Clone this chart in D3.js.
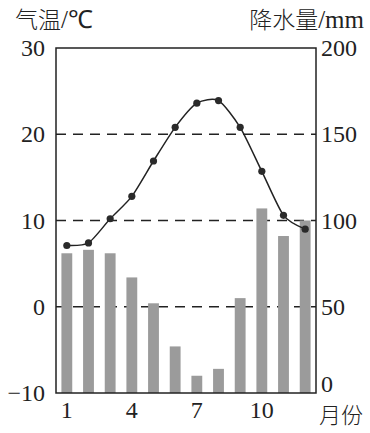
<!DOCTYPE html>
<html>
<head>
<meta charset="utf-8">
<script src="https://cdn.jsdelivr.net/npm/d3@7"></script>
<style>
  body { margin: 0; background: #fff; }
  text { font-family: "Liberation Serif", "Noto Sans CJK SC", serif; fill: #222; }
</style>
</head>
<body>
<div id="canvas"></div>
<script>
var months = [1, 2, 3, 4, 5, 6, 7, 8, 9, 10, 11, 12];
var temperature = [7.1, 7.4, 10.2, 12.8, 16.9, 20.8, 23.6, 23.9, 20.8, 15.7, 10.6, 9.0];
var precipitation = [81, 83, 81, 67, 52, 27, 10, 14, 55, 107, 91, 100];
var tempTicks = [-10, 0, 10, 20, 30];
var precTicks = [0, 50, 100, 150, 200];
var monthTicks = [1, 4, 7, 10];

(function(){
    var W = 370, H = 433;
    var left = 56, right = 316, top = 48, bottom = 393;

    var svg = d3.select("#canvas").append("svg").attr("width", W).attr("height", H);

    var x = d3.scaleBand().domain(months).range([left, right]).paddingInner(0.5).paddingOuter(0.25);
    var yT = d3.scaleLinear().domain([-10, 30]).range([bottom, top]);
    var yP = d3.scaleLinear().domain([0, 200]).range([bottom, top]);

    // dashed grid
    svg.selectAll(".grid").data([0, 10, 20]).enter().append("line")
        .attr("x1", left).attr("x2", right)
        .attr("y1", function(d){ return yT(d); }).attr("y2", function(d){ return yT(d); })
        .attr("stroke", "#222").attr("stroke-width", 1.5).attr("stroke-dasharray", "10,7");

    // bars
    svg.selectAll(".bar").data(precipitation).enter().append("rect")
        .attr("x", function(d, i){ return x(months[i]); })
        .attr("y", function(d){ return yP(d); })
        .attr("width", x.bandwidth())
        .attr("height", function(d){ return yP(0) - yP(d); })
        .attr("fill", "#9b9b9b");

    // temperature curve
    var line = d3.line()
        .x(function(d, i){ return x(months[i]) + x.bandwidth() / 2; })
        .y(function(d){ return yT(d); })
        .curve(d3.curveCardinal.tension(0.3));
    svg.append("path").datum(temperature)
        .attr("d", line).attr("fill", "none").attr("stroke", "#222").attr("stroke-width", 1.5);

    svg.selectAll(".pt").data(temperature).enter().append("circle")
        .attr("cx", function(d, i){ return x(months[i]) + x.bandwidth() / 2; })
        .attr("cy", function(d){ return yT(d); })
        .attr("r", 3.6).attr("fill", "#2a2a2a");

    // frame
    svg.append("rect").attr("x", left).attr("y", top)
        .attr("width", right - left).attr("height", bottom - top)
        .attr("fill", "none").attr("stroke", "#222").attr("stroke-width", 1.5);

    // axes (labels only)
    var la = svg.append("g").attr("transform", "translate(" + left + ",0)")
        .call(d3.axisLeft(yT).tickValues(tempTicks).tickSize(0).tickPadding(11)
              .tickFormat(function(d){ return d < 0 ? "\u2212" + Math.abs(d) : d; }));
    la.select(".domain").remove();
    la.selectAll("text").attr("font-size", 24).attr("font-family", "Liberation Serif").attr("fill", "#222");

    var ra = svg.append("g").attr("transform", "translate(" + right + ",0)")
        .call(d3.axisRight(yP).tickValues(precTicks).tickSize(0).tickPadding(5));
    ra.select(".domain").remove();
    ra.selectAll("text").attr("font-size", 24).attr("font-family", "Liberation Serif").attr("fill", "#222")
        .attr("dy", function(d){ return d === 0 ? "-0.05em" : "0.32em"; });

    var ba = svg.append("g").attr("transform", "translate(0," + bottom + ")")
        .call(d3.axisBottom(x).tickValues(monthTicks).tickSize(0).tickPadding(8));
    ba.select(".domain").remove();
    ba.selectAll("text").attr("font-size", 24).attr("font-family", "Liberation Serif").attr("fill", "#222");

    // titles
    function title(xp, yp, anchor, size, cjk, latin) {
        var t = svg.append("text").attr("x", xp).attr("y", yp).attr("text-anchor", anchor);
        t.append("tspan").attr("font-family", "Noto Sans CJK SC").attr("font-weight", 300)
            .attr("font-size", size).text(cjk);
        if (latin) t.append("tspan").attr("font-family", "Liberation Serif")
            .attr("font-size", size + 2).text(latin);
    }
    title(15, 28, "start", 23, "气温", "/℃");
    title(364, 28, "end", 23, "降水量", "/mm");
    title(363, 423, "end", 22, "月份", null);
})();
</script>
</body>
</html>
